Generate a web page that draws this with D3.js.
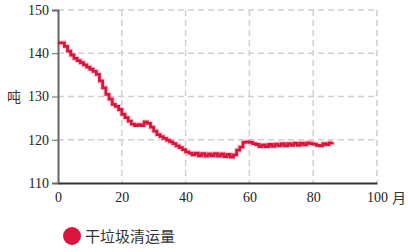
<!DOCTYPE html>
<html>
<head>
<meta charset="utf-8">
<script src="https://cdn.jsdelivr.net/npm/d3@7"></script>
<style>
  html, body { margin: 0; padding: 0; background: #fff; }
  .canvas { width: 408px; height: 252px; }
</style>
</head>
<body>
<div class="canvas"></div>
<script>
// monthly values, month 0..86
const months = d3.range(0, 87)
const tons = [
  142.4, 142.4, 141.6, 140.5, 139.6, 138.8, 138.3, 137.8, 137.3, 136.8,
  136.3, 135.8, 135.1, 133.6, 132.0, 130.5, 129.4, 128.2, 127.7, 127.0,
  125.9, 125.1, 124.3, 123.6, 123.3, 123.5, 123.3, 124.1, 123.8, 122.9,
  122.0, 121.2, 120.7, 120.3, 119.9, 119.5, 119.1, 118.6, 118.2, 117.7,
  117.2, 116.9, 116.5, 116.9, 116.3, 116.8, 116.2, 116.7, 116.3, 116.8,
  116.2, 116.7, 116.1, 116.6, 116.0, 116.5, 117.6, 118.3, 119.4, 119.5,
  119.4, 119.1, 118.9, 118.4, 118.8, 118.4, 118.9, 118.5, 119.0, 118.6,
  119.1, 118.6, 119.1, 118.7, 119.2, 118.7, 119.2, 118.8, 119.3, 119.1,
  119.0, 118.7, 118.6, 119.1, 118.9, 119.3, 119.4
]
const xTicks = [0, 20, 40, 60, 80, 100]
const yTicks = [110, 120, 130, 140, 150]
const seriesName = '干垃圾清运量'
const xUnit = '月'
const yUnit = '吨'

const width = 408, height = 252
const mLeft = 58, mRight = 377, mTop = 10, mBottom = 183
const red = '#dc143c'
const serif = '"Liberation Serif", "Times New Roman", serif'

const svg = d3.select('.canvas').append('svg')
    .attr('width', width)
    .attr('height', height)

const x = d3.scaleLinear().domain([0, 100]).range([mLeft, mRight])
const y = d3.scaleLinear().domain([110, 150]).range([mBottom, mTop])

// grid
svg.append('g').selectAll('line')
    .data(xTicks.filter(d => d > 0))
    .join('line')
    .attr('x1', d => x(d)).attr('x2', d => x(d))
    .attr('y1', mTop).attr('y2', mBottom)
    .attr('stroke', '#d0d0d0').attr('stroke-width', 1.5)
    .attr('stroke-dasharray', '6 4')

svg.append('g').selectAll('line')
    .data(yTicks.filter(d => d > 110))
    .join('line')
    .attr('x1', mLeft).attr('x2', mRight)
    .attr('y1', d => y(d)).attr('y2', d => y(d))
    .attr('stroke', '#d0d0d0').attr('stroke-width', 1.5)
    .attr('stroke-dasharray', '6 4')

// axes
const yAxis = svg.append('g')
    .attr('transform', `translate(${mLeft},0)`)
    .call(d3.axisLeft(y).tickValues(yTicks).tickSize(6).tickPadding(3))
yAxis.select('.domain').attr('stroke', '#666').attr('stroke-width', 2)
yAxis.selectAll('.tick line').attr('stroke', '#666')
yAxis.selectAll('text')
    .attr('font-family', serif)
    .attr('font-size', 14)
    .attr('fill', '#222')

const xAxis = svg.append('g')
    .attr('transform', `translate(0,${mBottom})`)
    .call(d3.axisBottom(x).tickValues(xTicks).tickSize(0).tickPadding(9))
xAxis.select('.domain').attr('stroke', '#333').attr('stroke-width', 2)
xAxis.selectAll('text')
    .attr('font-family', serif)
    .attr('font-size', 14)
    .attr('fill', '#222')

// unit labels
svg.append('text')
    .attr('x', 14).attr('y', y(130) + 5)
    .attr('text-anchor', 'middle')
    .attr('font-family', '"Noto Sans CJK SC"')
    .attr('font-size', 14)
    .attr('fill', '#333')
    .text(yUnit)

svg.append('text')
    .attr('x', 399).attr('y', 203)
    .attr('text-anchor', 'middle')
    .attr('font-family', '"Noto Sans CJK SC"')
    .attr('font-size', 14)
    .attr('fill', '#333')
    .text(xUnit)

// step line
const data = months.map((m, i) => ({ m: m, v: tons[i] }))
const line = d3.line()
    .x(d => x(d.m))
    .y(d => y(d.v))
    .curve(d3.curveStepAfter)

svg.append('path')
    .datum(data)
    .attr('d', line)
    .attr('fill', 'none')
    .attr('stroke', red)
    .attr('stroke-opacity', 0.2)
    .attr('stroke-width', 5)

svg.append('path')
    .datum(data)
    .attr('d', line)
    .attr('fill', 'none')
    .attr('stroke', red)
    .attr('stroke-width', 2.8)

// legend
svg.append('circle')
    .attr('cx', 72).attr('cy', 236).attr('r', 9)
    .attr('fill', red)

svg.append('text')
    .attr('x', 85).attr('y', 241.5)
    .attr('font-family', '"Noto Sans CJK SC"')
    .attr('font-size', 15)
    .attr('fill', '#333')
    .text(seriesName)
</script>
</body>
</html>
